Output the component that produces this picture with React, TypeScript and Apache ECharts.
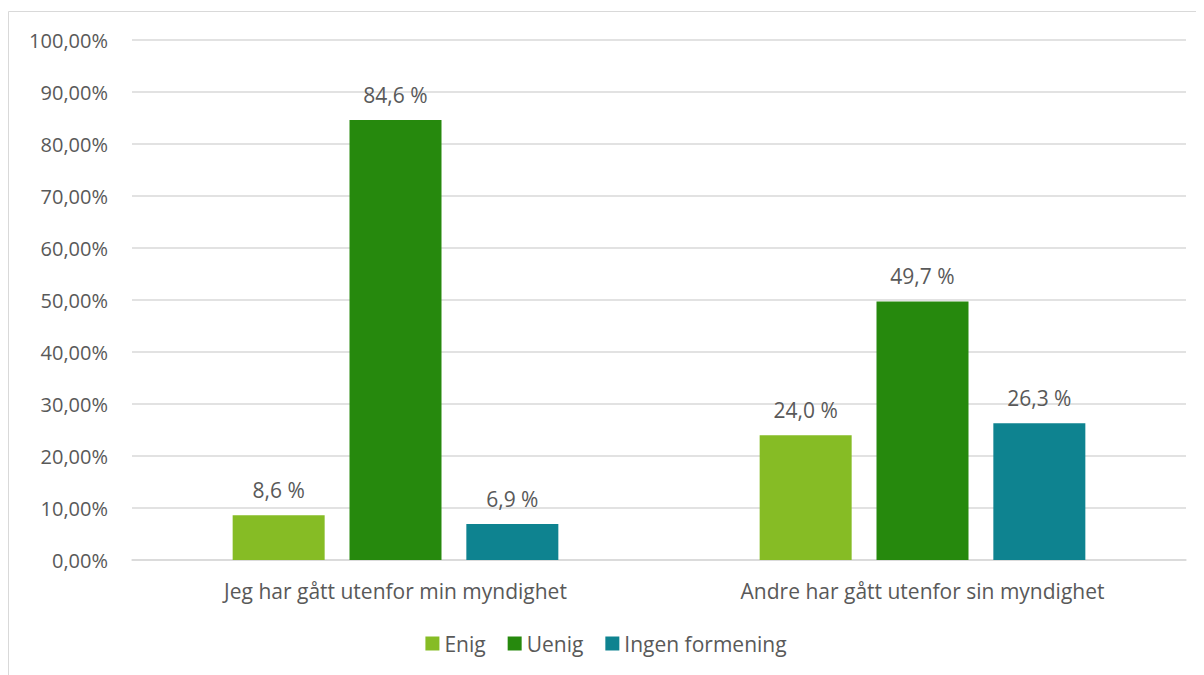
import React, { useEffect, useRef } from "react";
import * as echarts from "echarts";

const categories = ["Jeg har gått utenfor min myndighet", "Andre har gått utenfor sin myndighet"];
const seriesNames = ["Enig", "Uenig", "Ingen formening"];
const enig = [8.6, 24.0];
const uenig = [84.6, 49.7];
const ingen = [6.9, 26.3];
const colors = ["#86bc25", "#26890d", "#0e8390"];

export default function App() {
  const ref = useRef<HTMLDivElement>(null);
  useEffect(() => {
    if (!ref.current) return;
    const chart = echarts.init(ref.current, undefined, { renderer: "svg" });
    const font = "'Open Sans', 'Noto Sans', sans-serif";
    const values = [enig, uenig, ingen];
    chart.setOption({
      animation: false,
      textStyle: { fontFamily: font },
      graphic: [
        {
          type: "rect",
          shape: { x: 0.5, y: 3.5, width: 1400, height: 1000 },
          style: { fill: "none", stroke: "#d9d9d9", lineWidth: 1 },
          silent: true,
        },
      ],
      grid: { left: 124, right: 18, top: 32, bottom: 115, containLabel: false },
      legend: {
        bottom: 16,
        left: "center",
        itemWidth: 14,
        itemHeight: 14,
        itemGap: 22,
        icon: "rect",
        textStyle: { color: "#595959", fontSize: 21, fontFamily: font },
        data: seriesNames,
      },
      xAxis: {
        type: "category",
        data: categories,
        axisLine: { lineStyle: { color: "#d9d9d9", width: 1.5 } },
        axisTick: { show: false },
        axisLabel: { color: "#595959", fontSize: 21, margin: 20, fontFamily: font },
      },
      yAxis: {
        type: "value",
        min: 0,
        max: 100,
        interval: 10,
        axisLine: { show: false },
        axisTick: { show: false },
        splitLine: { lineStyle: { color: "#d9d9d9", width: 1.5 } },
        axisLabel: {
          color: "#595959",
          fontSize: 20,
          margin: 24,
          fontFamily: font,
          formatter: (v: number) => v.toFixed(2).replace(".", ",") + "%",
        },
      },
      series: seriesNames.map((name, i) => ({
        name,
        type: "bar",
        data: values[i],
        barWidth: 92,
        barGap: "27%",
        itemStyle: { color: colors[i] },
        label: {
          show: true,
          position: "top",
          distance: 15,
          color: "#595959",
          fontSize: 21,
          fontFamily: font,
          formatter: (p: any) => p.value.toFixed(1).replace(".", ",") + " %",
        },
      })),
    });
    return () => chart.dispose();
  }, []);
  return <div ref={ref} style={{ width: 1196, height: 667 }} />;
}
